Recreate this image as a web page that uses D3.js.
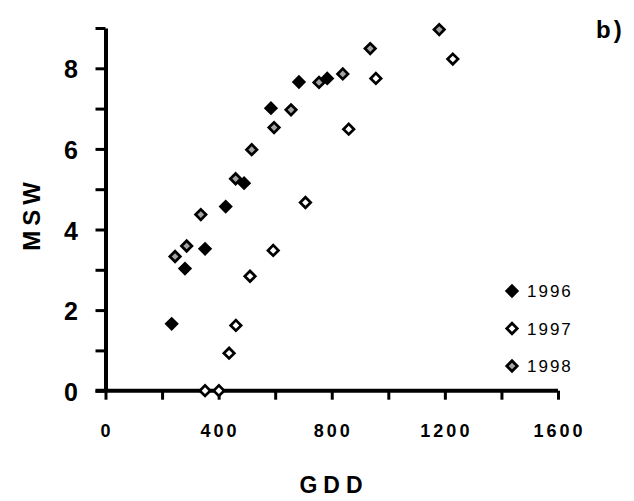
<!DOCTYPE html>
<html>
<head>
<meta charset="utf-8">
<script src="https://cdn.jsdelivr.net/npm/d3@7"></script>
<style>
  body { margin: 0; background: #fff; }
  svg { font-family: "Liberation Sans", Arial, sans-serif; }
</style>
</head>
<body>
<div id="chart"></div>
<script>
// data (GDD, MSW)
var years = ["1996", "1997", "1998"];
var gdd1996 = [234, 281, 352, 425, 490, 585, 684, 784];
var msw1996 = [1.66, 3.03, 3.52, 4.57, 5.15, 7.01, 7.66, 7.75];
var gdd1997 = [352, 401, 437, 461, 511, 593, 707, 860, 956, 1228];
var msw1997 = [0, 0, 0.93, 1.62, 2.84, 3.48, 4.67, 6.49, 7.75, 8.23];
var gdd1998 = [246, 287, 337, 460, 517, 596, 656, 755, 839, 936, 1180];
var msw1998 = [3.33, 3.59, 4.37, 5.26, 5.98, 6.53, 6.97, 7.65, 7.86, 8.49, 8.96];
var xTickLabels = [0, 400, 800, 1200, 1600];
var yTickLabels = [0, 2, 4, 6, 8];

var width = 634, height = 501;
var margin = {left: 105.5, top: 28, right: 76, bottom: 110.3};

var svg = d3.select("#chart").append("svg")
    .attr("width", width)
    .attr("height", height);

var x = d3.scaleLinear().domain([0, 1600]).range([margin.left, width - margin.right]);
var y = d3.scaleLinear().domain([0, 9]).range([height - margin.bottom, margin.top]);

var fills = {"1996": "#000", "1997": "#fff", "1998": "#a3a3a3"};

var series = [
  {year: "1996", gdd: gdd1996, msw: msw1996},
  {year: "1997", gdd: gdd1997, msw: msw1997},
  {year: "1998", gdd: gdd1998, msw: msw1998}
];

// axes
var xAxis = svg.append("g")
    .attr("transform", "translate(0," + y(0) + ")")
    .call(d3.axisBottom(x).tickValues(d3.range(0, 1601, 200)).tickSize(9).tickSizeOuter(0).tickFormat(""));
var yAxis = svg.append("g")
    .attr("transform", "translate(" + x(0) + ",0)")
    .call(d3.axisLeft(y).tickValues(d3.range(0, 10, 1)).tickSize(10).tickSizeOuter(0).tickFormat(""));

[xAxis, yAxis].forEach(function(a) {
  a.select(".domain").attr("stroke", "#000").attr("stroke-width", 4);
  a.selectAll(".tick line").attr("stroke", "#000").attr("stroke-width", 3);
});
// extend x axis line under the y tick at 0
xAxis.select(".domain").attr("d", "M" + (x(0) - 10) + ",0H" + x(1600));

// tick labels
svg.append("g").selectAll("text")
    .data(xTickLabels)
  .enter().append("text")
    .attr("x", function(d) { return x(d) + 1.5; })
    .attr("y", 437)
    .attr("text-anchor", "middle")
    .attr("font-size", 18)
    .attr("font-weight", "bold")
    .attr("letter-spacing", 3)
    .text(function(d) { return d; });

svg.append("g").selectAll("text")
    .data(yTickLabels)
  .enter().append("text")
    .attr("x", 78)
    .attr("y", function(d) { return y(d) + 10; })
    .attr("text-anchor", "end")
    .attr("font-size", 25)
    .attr("font-weight", "bold")
    .text(function(d) { return d; });

// axis titles
svg.append("text")
    .attr("x", 334)
    .attr("y", 493)
    .attr("text-anchor", "middle")
    .attr("font-size", 23)
    .attr("font-weight", "bold")
    .attr("letter-spacing", 6)
    .text("GDD");

svg.append("text")
    .attr("transform", "translate(40,214) rotate(-90)")
    .attr("text-anchor", "middle")
    .attr("font-size", 24)
    .attr("font-weight", "bold")
    .attr("letter-spacing", 5)
    .text("MSW");

svg.append("text")
    .attr("x", 596)
    .attr("y", 38)
    .attr("font-size", 24)
    .attr("font-weight", "bold")
    .attr("letter-spacing", 3)
    .text("b)");

// points
var diamond = d3.symbol().type(d3.symbolSquare).size(55);

series.forEach(function(s) {
  svg.append("g").selectAll("path")
      .data(s.gdd.map(function(g, i) { return [g, s.msw[i]]; }))
    .enter().append("path")
      .attr("d", diamond)
      .attr("transform", function(d) { return "translate(" + x(d[0]) + "," + y(d[1]) + ") rotate(45)"; })
      .attr("fill", fills[s.year])
      .attr("stroke", "#000")
      .attr("stroke-width", 2.7);
});

// legend
var legend = svg.append("g").selectAll("g")
    .data(years)
  .enter().append("g")
    .attr("transform", function(d, i) { return "translate(512," + (291 + i * 37.5) + ")"; });

legend.append("path")
    .attr("d", diamond)
    .attr("transform", "rotate(45)")
    .attr("fill", function(d) { return fills[d]; })
    .attr("stroke", "#000")
    .attr("stroke-width", 2.7);

legend.append("text")
    .attr("x", 15)
    .attr("y", 6)
    .attr("font-size", 17)
    .attr("letter-spacing", 2)
    .text(function(d) { return d; });
</script>
</body>
</html>
